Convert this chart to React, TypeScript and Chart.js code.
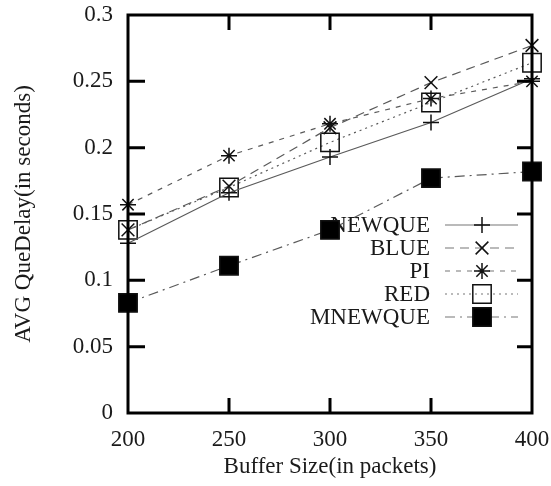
import React, { useEffect, useRef } from 'react';
import { Chart, registerables } from 'chart.js';
import { drawPoint } from 'chart.js/helpers';

Chart.register(...registerables);

// Average queueing delay (seconds) per buffer size (packets)
const bufferSizes = [200, 250, 300, 350, 400];
const newqueDelay = [0.128, 0.166, 0.193, 0.219, 0.252];
const blueDelay = [0.138, 0.171, 0.215, 0.249, 0.277];
const piDelay = [0.157, 0.194, 0.218, 0.237, 0.25];
const redDelay = [0.138, 0.17, 0.204, 0.234, 0.264];
const mnewqueDelay = [0.083, 0.111, 0.138, 0.177, 0.182];

const seriesNames = ['NEWQUE', 'BLUE', 'PI', 'RED', 'MNEWQUE'];
const seriesValues = [newqueDelay, blueDelay, piDelay, redDelay, mnewqueDelay];

const xTickValues = [200, 250, 300, 350, 400];
const yTickValues = [0, 0.05, 0.1, 0.15, 0.2, 0.25, 0.3];

const FONT = '"Liberation Serif", "Times New Roman", serif';
const FONT_SIZE = 23;
const INK = '#1a1a1a';

// gnuplot-like line types and point types
const styles = [
  { dash: [], point: 'cross', radius: 8, fill: 'rgba(0,0,0,0)', line: '#5a5a5a', width: 1.2 },
  { dash: [9, 6], point: 'crossRot', radius: 9, fill: 'rgba(0,0,0,0)', line: '#5a5a5a', width: 1.2 },
  { dash: [5, 6], point: 'star', radius: 8, fill: 'rgba(0,0,0,0)', line: '#5a5a5a', width: 1.2 },
  { dash: [2, 4], point: 'rect', radius: 13, fill: 'rgba(0,0,0,0)', line: '#5a5a5a', width: 1.2 },
  { dash: [10, 5, 2, 5], point: 'rect', radius: 13, fill: '#000', line: '#5a5a5a', width: 1.2 },
];

// Key drawn inside the plot: label right-aligned, then a line sample with its marker
const keyPlugin = {
  id: 'insideKey',
  beforeDatasetsDraw(chart: any) {
    const { ctx, chartArea } = chart;
    const textRight = chartArea.right - 102;
    const lineStart = chartArea.right - 87;
    const lineEnd = chartArea.right - 14;
    const markX = chartArea.right - 50;
    ctx.save();
    ctx.font = `${FONT_SIZE}px ${FONT}`;
    ctx.textAlign = 'right';
    ctx.textBaseline = 'middle';
    chart.data.datasets.forEach((ds: any, i: number) => {
      const y = chartArea.top + 210 + i * 23;
      ctx.fillStyle = INK;
      ctx.fillText(ds.label, textRight, y + 1);
      ctx.beginPath();
      ctx.setLineDash(ds.borderDash || []);
      ctx.strokeStyle = '#777';
      ctx.lineWidth = 1.2;
      ctx.moveTo(lineStart, y);
      ctx.lineTo(lineEnd, y);
      ctx.stroke();
      ctx.setLineDash([]);
      ctx.strokeStyle = ds.pointBorderColor;
      ctx.fillStyle = ds.pointBackgroundColor;
      ctx.lineWidth = ds.pointBorderWidth;
      drawPoint(ctx, { pointStyle: ds.pointStyle, radius: ds.pointRadius, rotation: 0, borderWidth: ds.pointBorderWidth }, markX, y);
    });
    ctx.restore();
  },
};

// Heavy frame with inward, mirrored tick marks
const framePlugin = {
  id: 'frameTicks',
  afterDraw(chart: any) {
    const { ctx, chartArea, scales } = chart;
    const { left, right, top, bottom } = chartArea;
    ctx.save();
    ctx.strokeStyle = '#000';
    ctx.lineWidth = 3;
    ctx.setLineDash([]);
    ctx.beginPath();
    yTickValues.forEach((v) => {
      if (v === yTickValues[0] || v === yTickValues[yTickValues.length - 1]) return;
      const py = scales.y.getPixelForValue(v);
      ctx.moveTo(left, py);
      ctx.lineTo(left + 17, py);
      ctx.moveTo(right, py);
      ctx.lineTo(right - 15, py);
    });
    xTickValues.forEach((v) => {
      if (v === xTickValues[0] || v === xTickValues[xTickValues.length - 1]) return;
      const px = scales.x.getPixelForValue(v);
      ctx.moveTo(px, bottom);
      ctx.lineTo(px, bottom - 15);
      ctx.moveTo(px, top);
      ctx.lineTo(px, top + 15);
    });
    ctx.stroke();
    ctx.strokeRect(left, top, right - left, bottom - top);
    ctx.restore();
  },
};

export default function App() {
  const canvasRef = useRef<HTMLCanvasElement | null>(null);

  useEffect(() => {
    if (!canvasRef.current) return;
    const datasets = seriesNames.map((name, i) => {
      const s = styles[i];
      return {
        label: name,
        data: bufferSizes.map((x, j) => ({ x, y: seriesValues[i][j] })),
        borderColor: s.line,
        borderWidth: s.width,
        borderDash: s.dash,
        pointStyle: s.point,
        pointRadius: s.radius,
        pointHoverRadius: s.radius,
        pointBorderColor: '#111',
        pointBackgroundColor: s.fill,
        pointBorderWidth: 1.5,
        fill: false,
        tension: 0,
        clip: false as any,
      };
    });

    const chart = new Chart(canvasRef.current, {
      type: 'line',
      data: { datasets },
      options: {
        responsive: false,
        animation: false,
        devicePixelRatio: 1,
        layout: { padding: { top: 15, right: 19, bottom: 0, left: 0 } },
        plugins: { legend: { display: false }, tooltip: { enabled: false } },
        scales: {
          x: {
            type: 'linear',
            min: 200,
            max: 400,
            afterBuildTicks: (scale: any) => {
              scale.ticks = xTickValues.map((v) => ({ value: v }));
            },
            afterFit: (scale: any) => {
              scale.height = 73;
              scale.paddingLeft = 0;
              scale.paddingRight = 0;
            },
            grid: { display: false, drawTicks: false },
            border: { display: false },
            ticks: { padding: 13, color: INK, font: { family: FONT, size: FONT_SIZE }, maxRotation: 0 },
            title: {
              display: true,
              text: 'Buffer Size(in packets)',
              color: INK,
              font: { family: FONT, size: FONT_SIZE },
              padding: { top: 0, bottom: 5 },
            },
          },
          y: {
            type: 'linear',
            min: 0,
            max: 0.3,
            afterBuildTicks: (scale: any) => {
              scale.ticks = yTickValues.map((v) => ({ value: v }));
            },
            afterFit: (scale: any) => {
              scale.width = 128;
              scale.paddingTop = 0;
              scale.paddingBottom = 0;
            },
            grid: { display: false, drawTicks: false },
            border: { display: false },
            ticks: {
              padding: 15,
              color: INK,
              font: { family: FONT, size: FONT_SIZE },
              callback: (v: any) => String(Math.round(Number(v) * 100) / 100),
            },
            title: {
              display: true,
              text: 'AVG QueDelay(in seconds)',
              color: INK,
              font: { family: FONT, size: FONT_SIZE },
              padding: { top: 10, bottom: 0 },
            },
          },
        },
      },
      plugins: [keyPlugin, framePlugin],
    });
    return () => chart.destroy();
  }, []);

  return (
    <div style={{ position: 'fixed', left: 0, top: 0, width: 551, height: 486, background: '#fff' }}>
      <canvas ref={canvasRef} width={551} height={486} style={{ display: 'block' }} />
    </div>
  );
}
